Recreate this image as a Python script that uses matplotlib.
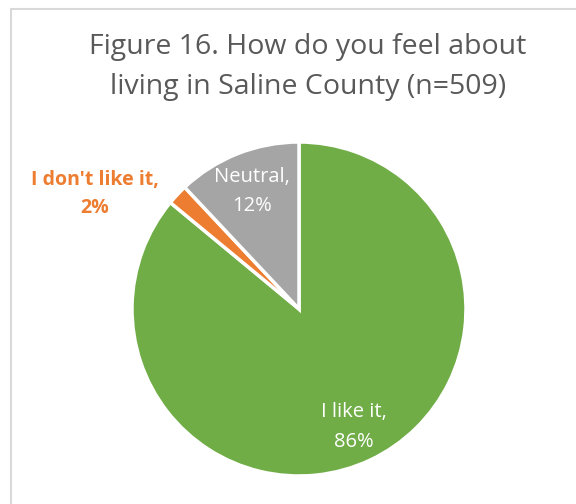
import numpy as np
import matplotlib.pyplot as plt
from matplotlib.patches import Rectangle

labels = ["I like it", "I don't like it", "Neutral"]
values = [86, 2, 12]
colors = ["#70AD47", "#ED7D31", "#A5A5A5"]

plt.rcParams['font.family'] = ['Open Sans', 'DejaVu Sans']

fig = plt.figure(figsize=(5.76, 5.04), dpi=100)
ax = fig.add_axes([0, 0, 1, 1])
ax.set_xlim(0, 576)
ax.set_ylim(0, 504)
ax.set_aspect('equal')
ax.axis('off')

# chart frame (cut off on right/bottom like the screenshot)
fig.patches.append(Rectangle((11 / 576, -0.1), 1.2, 1 - 9 / 504 + 0.1,
                             transform=fig.transFigure, fill=False,
                             edgecolor="#D9D9D9", linewidth=1.5))

cx, cy, r = 299, 504 - 309, 167
wedges, _ = ax.pie(values, colors=colors, startangle=90, counterclock=False,
                   center=(cx, cy), radius=r,
                   wedgeprops=dict(edgecolor="white", linewidth=2.5))
ax.set_xlim(0, 576)
ax.set_ylim(0, 504)

for w, lab, v in zip(wedges, labels, values):
    ang = np.deg2rad((w.theta1 + w.theta2) / 2)
    txt = f"{lab},\n{v}%"
    if v < 5:
        # small slice: label outside, bold, slice colour
        ang = np.deg2rad(151)
        x, y = cx + 1.4 * r * np.cos(ang), cy + 1.4 * r * np.sin(ang)
        ax.text(x, y + 2, txt, ha="center", va="center", fontsize=14,
                fontweight="bold", color=w.get_facecolor(), linespacing=1.55)
    else:
        x, y = cx + 0.77 * r * np.cos(ang), cy + 0.77 * r * np.sin(ang)
        ax.text(x, y - 2, txt, ha="center", va="center", fontsize=14.5,
                color="white", linespacing=1.65)

fig.text(308 / 576, 1 - 67 / 504, "Figure 16. How do you feel about\nliving in Saline County (n=509)",
         ha="center", va="center", fontsize=20.5, color="#595959", linespacing=1.55)

fig.savefig("out.png", dpi=100)
